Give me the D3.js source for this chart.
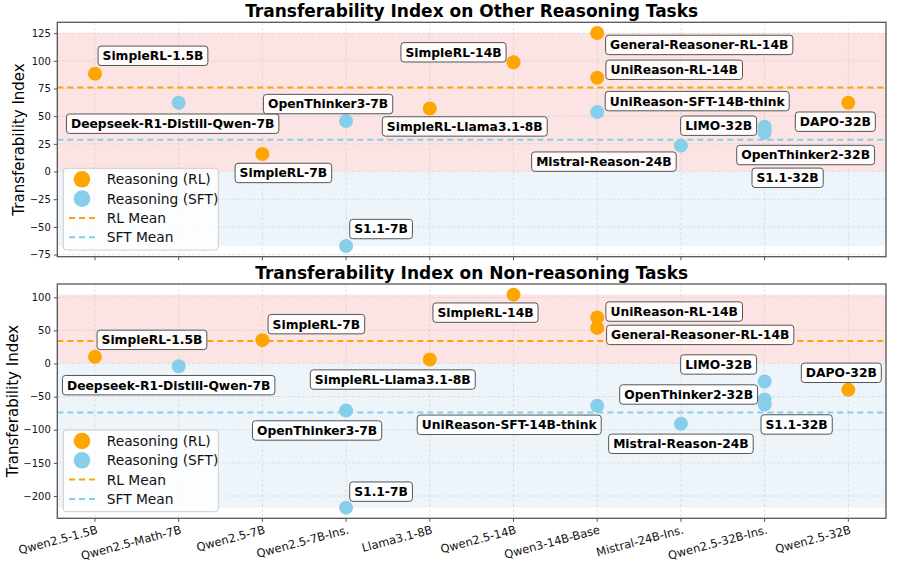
<!DOCTYPE html>
<html>
<head>
<meta charset="utf-8">
<script src="https://cdn.jsdelivr.net/npm/d3@7"></script>
<style>
  body { margin: 0; background: #fff; }
  svg text { font-family: "DejaVu Sans", sans-serif; }
</style>
</head>
<body>
<svg id="chart" width="913" height="564"></svg>
<script>
// base models on the x axis
const baseModels = ["Qwen2.5-1.5B", "Qwen2.5-Math-7B", "Qwen2.5-7B", "Qwen2.5-7B-Ins.", "Llama3.1-8B",
  "Qwen2.5-14B", "Qwen3-14B-Base", "Mistral-24B-Ins.", "Qwen2.5-32B-Ins.", "Qwen2.5-32B"];

// reasoning models
const modelNames = ["SimpleRL-1.5B", "Deepseek-R1-Distill-Qwen-7B", "SimpleRL-7B", "OpenThinker3-7B", "S1.1-7B",
  "SimpleRL-Llama3.1-8B", "SimpleRL-14B", "General-Reasoner-RL-14B", "UniReason-RL-14B", "UniReason-SFT-14B-think",
  "Mistral-Reason-24B", "LIMO-32B", "OpenThinker2-32B", "S1.1-32B", "DAPO-32B"];
const modelBase = ["Qwen2.5-1.5B", "Qwen2.5-Math-7B", "Qwen2.5-7B", "Qwen2.5-7B-Ins.", "Qwen2.5-7B-Ins.",
  "Llama3.1-8B", "Qwen2.5-14B", "Qwen3-14B-Base", "Qwen3-14B-Base", "Qwen3-14B-Base",
  "Mistral-24B-Ins.", "Qwen2.5-32B-Ins.", "Qwen2.5-32B-Ins.", "Qwen2.5-32B-Ins.", "Qwen2.5-32B"];
const modelType = ["RL", "SFT", "RL", "SFT", "SFT", "RL", "RL", "RL", "RL", "SFT", "SFT", "SFT", "SFT", "SFT", "RL"];

// transferability index values
const otherReasoning = [88.3, 62.2, 15.9, 45.6, -67.3, 57.0, 98.7, 125.2, 84.7, 53.7, 23.4, 40.5, 37.5, 35.0, 62.2];
const nonReasoning = [10.1, -4.0, 35.3, -70.9, -217.6, 6.0, 104.0, 53.8, 69.4, -63.8, -91.0, -27.1, -54.3, -61.8, -39.7];

// label box centre offsets (px) from the point
const offsetsTop = [[58, -18], [-6, 21], [21, 19], [-18, -17], [35, -17], [35, 18], [-60, -10], [102, 12],
  [77, -8], [100, -11], [-77, 16], [-46, -1], [41, 25], [23, 45], [-13, 19]];
const offsetsBottom = [[57, -17], [-10, 19], [54, -16], [-29, 20], [35, -16], [-37, 20], [-28, 18], [103, 7],
  [77, -6], [-88, 19], [0, 20], [-46, -17], [-76, -5], [32, 20], [-7, -17]];

const colors = { RL: "#FFA500", SFT: "#87CEEB" };

const svg = d3.select("#chart");
const left = 57.3, right = 886;

const x = d3.scalePoint().domain(baseModels).range([0, baseModels.length - 1]);
const xs = d3.scaleLinear().domain([-0.45, baseModels.length - 0.55]).range([left, right]);
const px = name => xs(x(name));

function panel(cfg) {
  const vals = cfg.values;
  const ext = d3.extent(vals);
  const pad = (ext[1] - ext[0]) * 0.05;
  const y = d3.scaleLinear().domain([ext[0] - pad, ext[1] + pad]).range([cfg.bottom, cfg.top]);
  const g = svg.append("g");

  // bands
  g.append("rect").attr("x", left).attr("width", right - left)
    .attr("y", y(ext[1])).attr("height", y(0) - y(ext[1])).attr("fill", "#FCE4E4");
  g.append("rect").attr("x", left).attr("width", right - left)
    .attr("y", y(0)).attr("height", y(ext[0]) - y(0)).attr("fill", "#EEF5FA");

  // grid
  const ticks = d3.range(cfg.tickMin, cfg.tickMax + 1, cfg.tickStep);
  g.selectAll(".gy").data(ticks).enter().append("line")
    .attr("x1", left).attr("x2", right).attr("y1", d => y(d)).attr("y2", d => y(d))
    .attr("stroke", "#bbb").attr("stroke-opacity", 0.5).attr("stroke-dasharray", "3,2").attr("stroke-width", 0.8);
  g.selectAll(".gx").data(baseModels).enter().append("line")
    .attr("x1", px).attr("x2", px).attr("y1", cfg.top).attr("y2", cfg.bottom)
    .attr("stroke", "#bbb").attr("stroke-opacity", 0.5).attr("stroke-dasharray", "3,2").attr("stroke-width", 0.8);

  // means
  ["RL", "SFT"].forEach(t => {
    const m = d3.mean(vals.filter((v, i) => modelType[i] === t));
    g.append("line").attr("x1", left).attr("x2", right).attr("y1", y(m)).attr("y2", y(m))
      .attr("stroke", colors[t]).attr("stroke-width", 2).attr("stroke-dasharray", "6,4");
  });

  // points
  g.selectAll(".pt").data(vals).enter().append("circle")
    .attr("cx", (d, i) => px(modelBase[i])).attr("cy", d => y(d)).attr("r", 7)
    .attr("fill", (d, i) => colors[modelType[i]]);

  // labels
  vals.forEach((v, i) => {
    const cx = px(modelBase[i]) + cfg.offsets[i][0];
    const cy = y(v) + cfg.offsets[i][1];
    const lg = g.append("g");
    const rect = lg.append("rect");
    const t = lg.append("text").attr("x", cx).attr("y", cy).attr("dy", "0.36em")
      .attr("text-anchor", "middle").attr("font-size", 12.3).attr("font-weight", "bold").attr("fill", "#000")
      .text(modelNames[i]);
    const w = t.node().getComputedTextLength() + 9;
    rect.attr("x", cx - w / 2).attr("y", cy - 9.7).attr("width", w).attr("height", 19.4).attr("rx", 3)
      .attr("fill", "#fff").attr("fill-opacity", 0.85).attr("stroke", "#555").attr("stroke-width", 1);
  });

  // frame
  g.append("rect").attr("x", left).attr("y", cfg.top).attr("width", right - left).attr("height", cfg.bottom - cfg.top)
    .attr("fill", "none").attr("stroke", "#555").attr("stroke-width", 1.3);

  // y axis
  const ya = g.append("g").attr("transform", `translate(${left},0)`)
    .call(d3.axisLeft(y).tickValues(ticks).tickSize(3.5).tickPadding(3).tickFormat(d => d < 0 ? "\u2212" + Math.abs(d) : d));
  ya.select(".domain").remove();
  ya.selectAll("line").attr("stroke", "#555");
  ya.selectAll("text").attr("font-size", 10).attr("font-family", "DejaVu Sans").attr("fill", "#111");

  // x ticks
  g.selectAll(".xt").data(baseModels).enter().append("line")
    .attr("x1", px).attr("x2", px).attr("y1", cfg.bottom).attr("y2", cfg.bottom + 3.5).attr("stroke", "#555");
  if (cfg.xLabels) {
    g.selectAll(".xl").data(baseModels).enter().append("text")
      .attr("transform", d => `translate(${px(d) + 1},${cfg.bottom + 6}) rotate(-15)`)
      .attr("text-anchor", "end").attr("dy", "0.8em").attr("font-size", 11.5).attr("fill", "#111")
      .text(d => d);
  }

  // title and y label
  g.append("text").attr("x", (left + right) / 2).attr("y", cfg.titleY).attr("text-anchor", "middle")
    .attr("font-size", 17).attr("font-weight", "bold").text(cfg.title);
  g.append("text").attr("transform", `translate(${cfg.ylabelX},${(cfg.top + cfg.bottom) / 2}) rotate(-90)`)
    .attr("text-anchor", "middle").attr("font-size", 15).text("Transferability Index");

  // legend
  const lgd = g.append("g").attr("transform", `translate(63.3,${cfg.legendTop})`);
  lgd.append("rect").attr("width", 155).attr("height", 81.7).attr("rx", 3)
    .attr("fill", "#fff").attr("fill-opacity", 0.8).attr("stroke", "#ccc");
  const items = [
    { label: "Reasoning (RL)", kind: "dot", color: colors.RL },
    { label: "Reasoning (SFT)", kind: "dot", color: colors.SFT },
    { label: "RL Mean", kind: "line", color: colors.RL },
    { label: "SFT Mean", kind: "line", color: colors.SFT }
  ];
  items.forEach((it, i) => {
    const yy = 11 + i * 19.3;
    if (it.kind === "dot") {
      lgd.append("circle").attr("cx", 18.7).attr("cy", yy).attr("r", 8.3).attr("fill", it.color);
    } else {
      lgd.append("line").attr("x1", 5.7).attr("x2", 33.4).attr("y1", yy).attr("y2", yy)
        .attr("stroke", it.color).attr("stroke-width", 2).attr("stroke-dasharray", "6,4");
    }
    lgd.append("text").attr("x", 43.4).attr("y", yy).attr("dy", "0.36em").attr("font-size", 13.8).attr("fill", "#111")
      .text(it.label);
  });
}

panel({ values: otherReasoning, offsets: offsetsTop, top: 22.3, bottom: 256.7, tickMin: -75, tickMax: 125, tickStep: 25,
  title: "Transferability Index on Other Reasoning Tasks", titleY: 17, ylabelX: 23.5, legendTop: 168.3, xLabels: false });
panel({ values: nonReasoning, offsets: offsetsBottom, top: 284, bottom: 518.3, tickMin: -200, tickMax: 100, tickStep: 50,
  title: "Transferability Index on Non-reasoning Tasks", titleY: 279, ylabelX: 17.5, legendTop: 430, xLabels: true });
</script>
</body>
</html>
